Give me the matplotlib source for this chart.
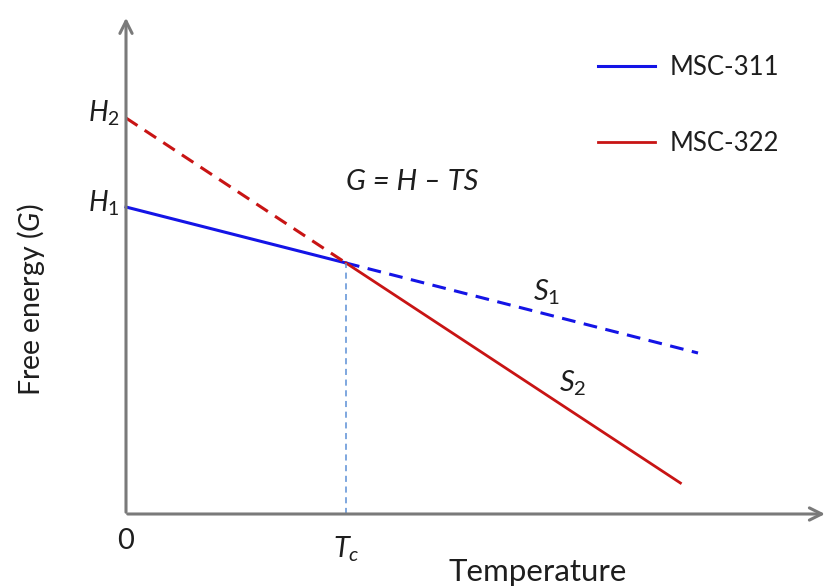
import matplotlib.pyplot as plt
import matplotlib as mpl

# Temperature in units of Tc, free energy in arbitrary units
H1, H2 = 3.07, 3.96
Tc = 1.0
Gc = 2.51

# MSC-311: solid below Tc, dashed above
t311_solid = [0.0, Tc]
g311_solid = [H1, Gc]
t311_dash = [Tc, 2.60]
g311_dash = [Gc, 1.61]

# MSC-322: dashed below Tc, solid above
t322_dash = [0.0, Tc]
g322_dash = [H2, Gc]
t322_solid = [Tc, 2.52]
g322_solid = [Gc, 0.31]

x_end, y_end = 3.19, 4.99

mpl.rcParams['font.family'] = ['Lato', 'DejaVu Sans']
mpl.rcParams['mathtext.fontset'] = 'custom'
mpl.rcParams['mathtext.it'] = 'Lato:italic'
mpl.rcParams['mathtext.rm'] = 'Lato'

blue = '#1414e6'
red = '#c81414'
grey = '#7a7a7a'
ink = '#1e1e1e'

fig = plt.figure(figsize=(8.3, 5.88), dpi=100)
ax = fig.add_axes([0, 0, 1, 1])
ax.set_xlim(-126 / 220, 704 / 220)
ax.set_ylim(-0.74, 5.14)
ax.axis('off')

# axes with arrow heads
ax.annotate('', xy=(x_end, 0), xytext=(-0.005, 0),
            arrowprops=dict(arrowstyle='->', color=grey, lw=2.2,
                            mutation_scale=22))
ax.annotate('', xy=(0, y_end), xytext=(0, -0.01),
            arrowprops=dict(arrowstyle='->', color=grey, lw=2.2,
                            mutation_scale=22))

ax.plot(t311_solid, g311_solid, color=blue, lw=2.2, label='MSC-311')
ax.plot(t311_dash, g311_dash, color=blue, lw=2.2, dashes=(4.5, 2.8))
ax.plot(t322_solid, g322_solid, color=red, lw=2.0, label='MSC-322')
ax.plot(t322_dash, g322_dash, color=red, lw=2.2, dashes=(4.5, 2.8))

# drop line at the transition temperature
ax.plot([Tc, Tc], [0, Gc], color='#5b8fd6', lw=1.1, dashes=(4, 3))

ax.text(-0.10, H2 + 0.05, r'$H_2$', fontsize=20, color=ink, ha='center', va='center')
ax.text(-0.10, H1 + 0.04, r'$H_1$', fontsize=20, color=ink, ha='center', va='center')
ax.text(1.30, 3.32, 'G = H – TS', fontsize=21, style='italic', color=ink,
        ha='center', va='center')
ax.text(1.91, 2.22, r'$S_1$', fontsize=21, color=ink, ha='center', va='center')
ax.text(2.03, 1.31, r'$S_2$', fontsize=21, color=ink, ha='center', va='center')

ax.text(0.0, -0.27, '0', fontsize=21, color=ink, ha='center', va='center')
ax.text(Tc, -0.35, r'$T_c$', fontsize=21, color=ink, ha='center', va='center')
ax.text(1.87, -0.58, 'Temperature', fontsize=22.5, color=ink, ha='center', va='center')
ax.text(-0.43, 2.14, 'Free energy ($G$)', fontsize=20.5, color=ink, rotation=90,
        ha='center', va='center')

ax.legend(loc='upper left', bbox_to_anchor=(598 / 830, 1 - 55 / 588),
          frameon=False, fontsize=18.5, labelspacing=1.97, handlelength=2.2,
          handletextpad=0.58, labelcolor=ink, borderaxespad=0, borderpad=0)

fig.savefig('out.png', dpi=100)
